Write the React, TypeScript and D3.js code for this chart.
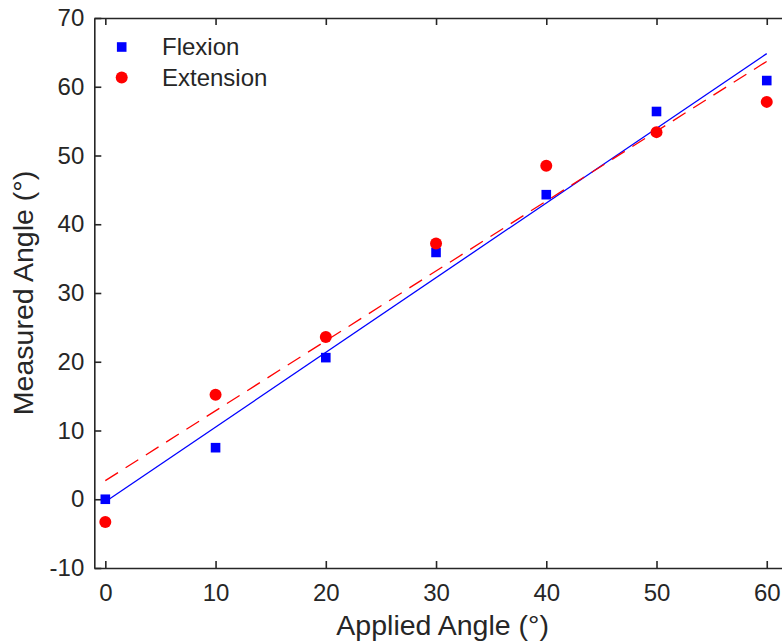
import React, { useEffect, useRef } from "react";
import * as d3 from "d3";

const appliedAngles = [0, 10, 20, 30, 40, 50, 60];
const flexion = [0, 7.5, 20.6, 35.9, 44.3, 56.4, 60.9];
const extension = [-3.3, 15.2, 23.6, 37.2, 48.5, 53.4, 57.8];
const xTicks = [0, 10, 20, 30, 40, 50, 60];
const yTicks = [-10, 0, 10, 20, 30, 40, 50, 60, 70];

const WIDTH = 782;
const HEIGHT = 642;
const FONT = "'Liberation Sans', Arial, Helvetica, sans-serif";
const INK = "#262626";

// least squares line through the points
function linearFit(xs: number[], ys: number[]) {
  const mx = d3.mean(xs) as number;
  const my = d3.mean(ys) as number;
  const sxy = d3.sum(xs, (x, i) => (x - mx) * (ys[i] - my));
  const sxx = d3.sum(xs, (x) => (x - mx) * (x - mx));
  const slope = sxy / sxx;
  const intercept = my - slope * mx;
  return (x: number) => intercept + slope * x;
}

function AngleChart() {
  const ref = useRef<SVGSVGElement | null>(null);

  useEffect(() => {
    const svg = d3.select(ref.current);
    svg.selectAll("*").remove();

    const x = d3.scaleLinear().domain([-1, 62.2]).range([94.3, 791]);
    const y = d3.scaleLinear().domain([-10, 70]).range([568, 18]);

    const series = [
      { name: "Flexion", values: flexion, color: "#0000ff", shape: "square", dash: null },
      { name: "Extension", values: extension, color: "#ff0000", shape: "circle", dash: "15 9" },
    ];

    // axes
    const styleAxis = (g: any) => {
      g.select(".domain").attr("stroke", INK).attr("stroke-width", 1.6);
      g.selectAll(".tick line").attr("stroke", INK).attr("stroke-width", 1.6);
      g.selectAll(".tick text")
        .attr("fill", INK)
        .style("font-family", FONT)
        .style("font-size", "24px");
    };

    svg.append("g")
      .attr("transform", "translate(0," + y(-10) + ")")
      .call(d3.axisBottom(x).tickValues(xTicks).tickSizeInner(-7).tickSizeOuter(0)
        .tickPadding(16).tickFormat((d: any) => String(d)))
      .call(styleAxis);

    svg.append("g")
      .attr("transform", "translate(0," + y(70) + ")")
      .call(d3.axisTop(x).tickValues(xTicks).tickSizeInner(-7).tickSizeOuter(0)
        .tickFormat(() => ""))
      .call(styleAxis);

    svg.append("g")
      .attr("transform", "translate(" + x(-1) + ",0)")
      .call(d3.axisLeft(y).tickValues(yTicks).tickSizeInner(-7).tickSizeOuter(0)
        .tickPadding(10).tickFormat((d: any) => String(d)))
      .call(styleAxis);

    // fit lines
    const xExtent = d3.extent(appliedAngles) as [number, number];
    const line = d3.line<number>().x((d) => x(d)).y((d) => y(d));
    series.forEach((s) => {
      const f = linearFit(appliedAngles, s.values);
      svg.append("path")
        .attr("d", line.y((d) => y(f(d)))(xExtent))
        .attr("fill", "none")
        .attr("stroke", s.color)
        .attr("stroke-width", 1.3)
        .attr("stroke-dasharray", s.dash);
    });

    // markers
    const drawMarker = (g: any, shape: string, color: string, cx: number, cy: number) => {
      if (shape === "square") {
        g.append("rect")
          .attr("x", cx - 4.8).attr("y", cy - 4.8)
          .attr("width", 9.6).attr("height", 9.6)
          .attr("fill", color);
      } else {
        g.append("circle").attr("cx", cx).attr("cy", cy).attr("r", 6).attr("fill", color);
      }
    };

    series.forEach((s) => {
      const g = svg.append("g");
      s.values.forEach((v, i) => drawMarker(g, s.shape, s.color, x(appliedAngles[i]), y(v)));
    });

    // legend
    const legend = svg.append("g");
    series.forEach((s, i) => {
      const ly = 47 + i * 30.5;
      drawMarker(legend, s.shape, s.color, 121.7, ly);
      legend.append("text")
        .attr("x", 162)
        .attr("y", ly)
        .attr("dy", "0.35em")
        .attr("fill", INK)
        .style("font-family", FONT)
        .style("font-size", "24px")
        .text(s.name);
    });

    // axis titles
    svg.append("text")
      .attr("x", (x(-1) + x(62.2)) / 2)
      .attr("y", 635)
      .attr("text-anchor", "middle")
      .attr("fill", INK)
      .style("font-family", FONT)
      .style("font-size", "28.5px")
      .text("Applied Angle (°)");

    svg.append("text")
      .attr("transform", "translate(33," + (y(-10) + y(70)) / 2 + ") rotate(-90)")
      .attr("text-anchor", "middle")
      .attr("fill", INK)
      .style("font-family", FONT)
      .style("font-size", "28.5px")
      .text("Measured Angle (°)");
  }, []);

  return (
    <svg
      ref={ref}
      width={WIDTH}
      height={HEIGHT}
      style={{ position: "absolute", left: 0, top: 0, background: "#fff" }}
    />
  );
}

export default function App() {
  return <AngleChart />;
}
